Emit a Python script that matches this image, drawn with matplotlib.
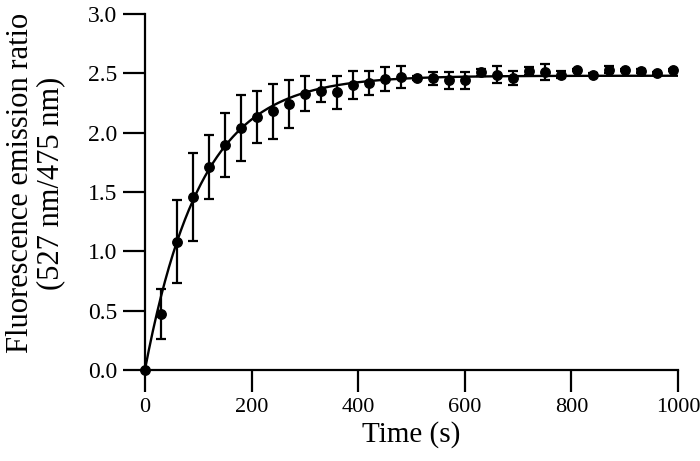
import numpy as np
import matplotlib
matplotlib.use("Agg")
import matplotlib.pyplot as plt

# measured points, every 30 s
time_s = np.arange(0, 1000, 30)
ratio = [0.00, 0.47, 1.08, 1.46, 1.71, 1.90, 2.04, 2.13, 2.18, 2.24,
         2.33, 2.35, 2.34, 2.40, 2.42, 2.45, 2.47, 2.46, 2.46, 2.44,
         2.44, 2.51, 2.49, 2.46, 2.52, 2.51, 2.49, 2.53, 2.49, 2.53,
         2.53, 2.52, 2.50, 2.53]
ratio_err = [0.00, 0.21, 0.35, 0.37, 0.27, 0.27, 0.28, 0.22, 0.23, 0.20,
             0.15, 0.09, 0.14, 0.12, 0.10, 0.10, 0.09, 0.02, 0.055, 0.07,
             0.075, 0.03, 0.07, 0.06, 0.03, 0.065, 0.03, 0.01, 0.01, 0.03,
             0.01, 0.02, 0.01, 0.01]

# single exponential fit shown in the figure: y = A(1 - exp(-t/tau))
fit_A = 2.48
fit_tau = 105.0

x_ticks = [0, 200, 400, 600, 800, 1000]
y_ticks = [0.0, 0.5, 1.0, 1.5, 2.0, 2.5, 3.0]

plt.rcParams["font.family"] = ["Liberation Serif", "DejaVu Serif"]

t_fit = np.linspace(0, 1000, 400)
y_fit = fit_A * (1 - np.exp(-t_fit / fit_tau))

fig = plt.figure(figsize=(7, 4.61), dpi=100)
ax = fig.add_axes([0.207, 0.1974, 0.7616, 0.7722])

ax.plot(t_fit, y_fit, color="black", lw=1.7, zorder=2)
ax.errorbar(time_s, ratio, yerr=ratio_err, fmt="o", color="black",
            ms=6.8, elinewidth=1.6, capsize=3.4, capthick=1.6,
            clip_on=False, zorder=3)

ax.set_xlim(0, 1000)
ax.set_ylim(0, 3.0)
ax.set_xticks(x_ticks)
ax.set_yticks(y_ticks)
ax.set_yticklabels([f"{v:.1f}" for v in y_ticks])
ax.tick_params(direction="out", length=16, width=1.6, pad=4)
ax.tick_params(axis="y", labelsize=17)
ax.tick_params(axis="x", labelsize=16)

for side in ["top", "right"]:
    ax.spines[side].set_visible(False)
for side in ["left", "bottom"]:
    ax.spines[side].set_linewidth(1.6)

ax.set_xlabel("Time (s)", fontsize=21, labelpad=3)
fig.text(0.051, 0.603, "Fluorescence emission ratio\n(527 nm/475 nm)",
         rotation=90, ha="center", va="center", multialignment="center",
         fontsize=22, linespacing=1.05)

fig.savefig("out.png", dpi=100)
